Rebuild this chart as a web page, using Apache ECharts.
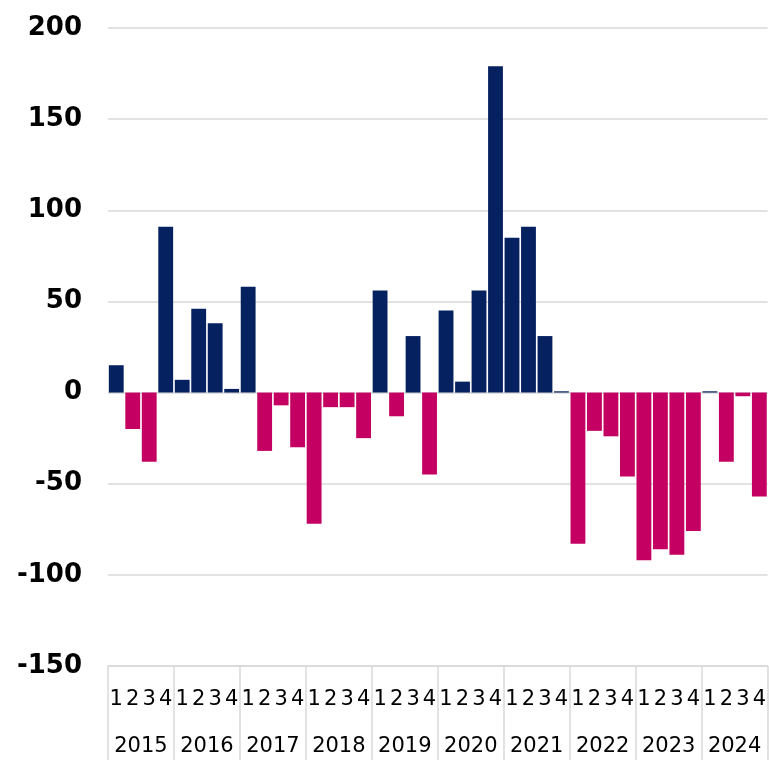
<!DOCTYPE html>
<html>
<head>
<meta charset="utf-8">
<script src="https://cdn.jsdelivr.net/npm/echarts@6/dist/echarts.min.js"></script>
<style>
  html, body { margin: 0; padding: 0; background: #fff; }
  #chart { width: 769px; height: 760px; }
</style>
</head>
<body>
<div id="chart"></div>
<script>
  var years = ['2015', '2016', '2017', '2018', '2019', '2020', '2021', '2022', '2023', '2024'];
  var quarters = ['1', '2', '3', '4'];
  var values = [
    15, -20, -38, 91,
    7, 46, 38, 2,
    58, -32, -7, -30,
    -72, -8, -8, -25,
    56, -13, 31, -45,
    45, 6, 56, 179,
    85, 91, 31, 0.7,
    -83, -21, -24, -46,
    -92, -86, -89, -76,
    0.7, -38, -2, -57
  ];
  var yTicks = { min: -150, max: 200, step: 50 };

  var navy = '#062160';
  var magenta = '#c40062';
  var rule = '#d9d9d9';

  var categories = [];
  years.forEach(function(y) {
    quarters.forEach(function(q) { categories.push(y + ' Q' + q); });
  });

  var chart = echarts.init(document.getElementById('chart'), null, { renderer: 'canvas' });

  chart.setOption({
    animation: false,
    grid: { left: 108, right: 0, top: 28, bottom: 94, containLabel: false },
    xAxis: [
      {
        type: 'category',
        data: categories,
        position: 'bottom',
        axisLine: { show: true, onZero: false, lineStyle: { color: rule, width: 1.5 } },
        axisTick: {
          show: true,
          interval: function(i) { return i % 4 === 0; },
          length: 94,
          lineStyle: { color: rule, width: 1.5 }
        },
        axisLabel: {
          interval: 0,
          margin: 23,
          fontSize: 21,
          lineHeight: 22,
          color: '#000',
          fontFamily: 'DejaVu Sans',
          formatter: function(v) { return v.split(' Q')[1]; }
        }
      },
      {
        type: 'category',
        data: years,
        position: 'bottom',
        axisLine: { show: false, onZero: false },
        axisTick: { show: false },
        axisLabel: {
          interval: 0,
          margin: 70,
          fontSize: 21,
          lineHeight: 22,
          color: '#000',
          fontFamily: 'DejaVu Sans'
        }
      }
    ],
    yAxis: {
      type: 'value',
      min: yTicks.min,
      max: yTicks.max,
      interval: yTicks.step,
      axisLine: { show: false },
      axisTick: { show: false },
      axisLabel: {
        margin: 26,
        fontSize: 26,
        fontWeight: 'bold',
        color: '#000',
        fontFamily: 'DejaVu Sans'
      },
      splitLine: { lineStyle: { color: rule, width: 1.5 } }
    },
    series: [{
      type: 'bar',
      xAxisIndex: 0,
      data: values,
      barCategoryGap: '10%',
      itemStyle: {
        color: function(p) { return p.value >= 0 ? navy : magenta; }
      }
    }]
  });
</script>
</body>
</html>
